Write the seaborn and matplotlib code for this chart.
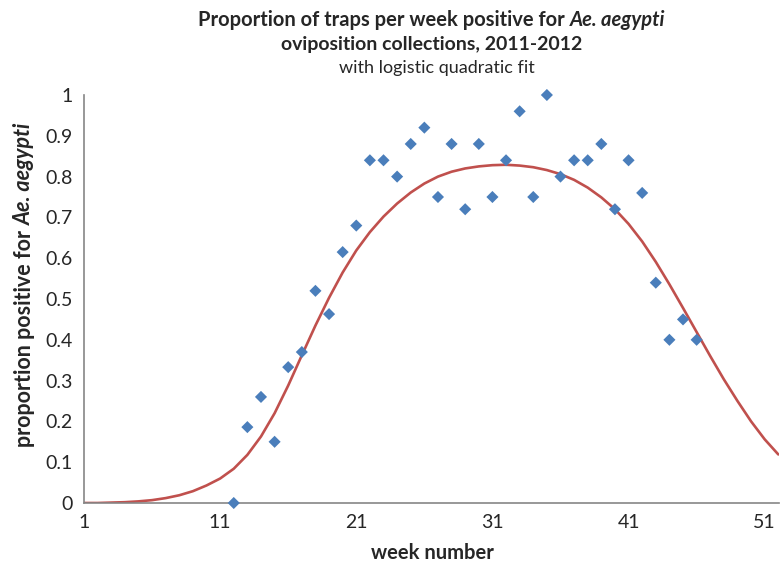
import matplotlib
matplotlib.use("Agg")
import matplotlib.pyplot as plt
import numpy as np
import pandas as pd
import seaborn as sns

# ---- data ----
weeks_obs = list(range(12, 47))
prop_obs = [0.0, 0.186, 0.26, 0.15, 0.333, 0.37, 0.52, 0.463, 0.615, 0.68,
            0.84, 0.84, 0.80, 0.88, 0.92, 0.75, 0.88, 0.72, 0.88, 0.75,
            0.84, 0.96, 0.75, 1.0, 0.80, 0.84, 0.84, 0.88, 0.72, 0.84,
            0.76, 0.54, 0.40, 0.45, 0.40]

fit_weeks = list(range(1, 53))
fit_prop = [0.000, 0.000, 0.001, 0.002, 0.004, 0.007, 0.012, 0.019, 0.029, 0.043,
            0.060, 0.084, 0.118, 0.163, 0.220, 0.288, 0.362, 0.435, 0.503, 0.565,
            0.619, 0.664, 0.702, 0.734, 0.761, 0.783, 0.800, 0.812, 0.820, 0.825,
            0.828, 0.829, 0.827, 0.823, 0.816, 0.806, 0.792, 0.773, 0.749, 0.720,
            0.684, 0.641, 0.591, 0.536, 0.478, 0.419, 0.360, 0.303, 0.250, 0.200,
            0.156, 0.119]

x_ticks = [1, 11, 21, 31, 41, 51]
y_ticks = [0, 0.1, 0.2, 0.3, 0.4, 0.5, 0.6, 0.7, 0.8, 0.9, 1.0]
y_tick_labels = ["0", "0.1", "0.2", "0.3", "0.4", "0.5", "0.6", "0.7", "0.8", "0.9", "1"]

title_line1 = [("Proportion of traps per week positive for", "normal", "bold"),
               ("Ae. aegypti", "italic", "bold")]
title_line2 = "oviposition collections, 2011-2012"
title_line3 = "with logistic quadratic fit"
ylabel_segs = [("proportion positive for", "normal", "bold"),
               ("Ae. aegypti", "italic", "bold")]
xlabel_text = "week number"

# ---- style ----
sns.set_style("white")
plt.rcParams['font.family'] = ['Lato', 'DejaVu Sans']

W, H = 781, 570
fig = plt.figure(figsize=(W / 100, H / 100), dpi=100)
ax = fig.add_axes([84 / W, 1 - 503 / H, (779 - 84) / W, (503 - 95) / H])

obs = pd.DataFrame({"week": weeks_obs, "prop": prop_obs})
fit = pd.DataFrame({"week": fit_weeks, "prop": fit_prop})

sns.lineplot(data=fit, x="week", y="prop", color="#C0504D", linewidth=1.9,
             ax=ax, zorder=2, solid_joinstyle="round", solid_capstyle="round")
sns.scatterplot(data=obs, x="week", y="prop", marker="D", s=38,
                color="#4A7EBB", edgecolor="none", linewidth=0, ax=ax,
                zorder=3, clip_on=False)

ax.set_xlim(1, 52.05)
ax.set_ylim(0, 1)
ax.set_xticks(x_ticks)
ax.set_yticks(y_ticks)
ax.set_yticklabels(y_tick_labels)
ax.set_xlabel("")
ax.set_ylabel("")
for s in ["top", "right"]:
    ax.spines[s].set_visible(False)
for s in ["left", "bottom"]:
    ax.spines[s].set_color("#868686")
    ax.spines[s].set_linewidth(1.2)
ax.tick_params(direction="out", length=4, width=1.1, color="#868686",
               labelsize=14, labelcolor="#262626", pad=4)

TXT = "#262626"
renderer = fig.canvas.get_renderer()


def text_width(s, size, style, weight):
    t = fig.text(0, 0, s, fontsize=size, fontstyle=style, fontweight=weight)
    w = t.get_window_extent(renderer).width
    t.remove()
    return w


def mixed_text(segs, cx, cy, size, vertical=False):
    """Draw mixed-style segments centred at pixel position; cy (or cx) is the baseline."""
    widths = [text_width(s, size, st, wt) for s, st, wt in segs]
    sp = text_width("a a", size, "normal", "bold") - text_width("aa", size, "normal", "bold")
    total = sum(widths) + sp * (len(segs) - 1)
    pos = -total / 2
    for (s, st, wt), w in zip(segs, widths):
        if not vertical:
            fig.text((cx + pos) / W, 1 - cy / H, s, fontsize=size, fontstyle=st,
                     fontweight=wt, ha="left", va="baseline", color=TXT)
        else:
            fig.text(cx / W, 1 - (cy - pos) / H, s, fontsize=size, fontstyle=st,
                     fontweight=wt, ha="left", va="baseline", rotation=90,
                     rotation_mode="anchor", color=TXT)
        pos += w + sp


mixed_text(title_line1, 432, 26, 14.5)
fig.text(432 / W, 1 - 50 / H, title_line2, fontsize=14, fontweight="bold",
         ha="center", va="baseline", color=TXT)
fig.text(437 / W, 1 - 73 / H, title_line3, fontsize=13, ha="center",
         va="baseline", color=TXT)
mixed_text(ylabel_segs, 31, 285, 15.5, vertical=True)
fig.text(432 / W, 1 - 559 / H, xlabel_text, fontsize=14.5, fontweight="bold",
         ha="center", va="baseline", color=TXT)

fig.savefig("out.png", dpi=100)
